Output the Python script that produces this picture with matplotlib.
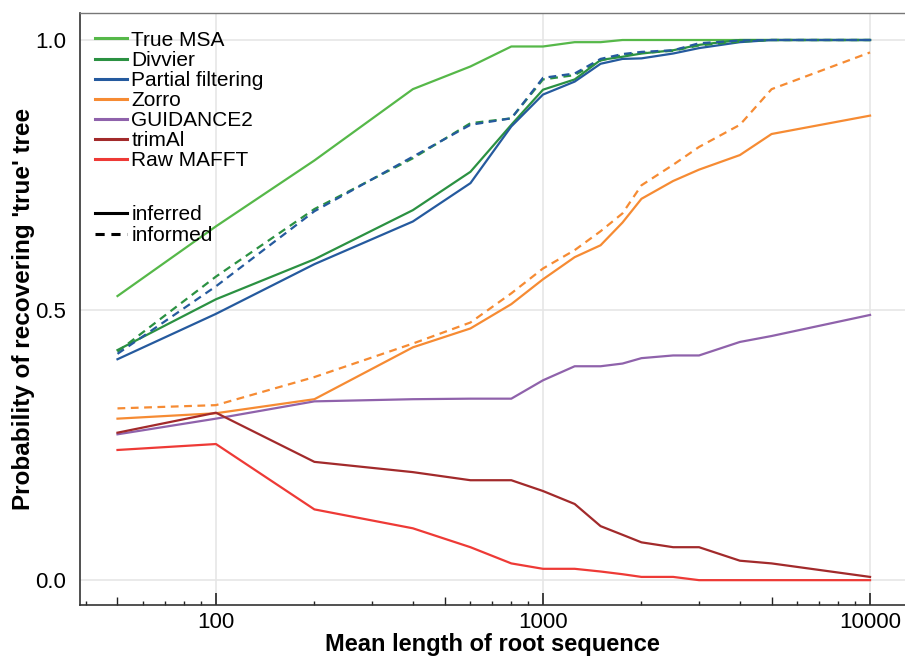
import matplotlib
matplotlib.use("Agg")
import matplotlib.pyplot as plt
from matplotlib.lines import Line2D

plt.rcParams["font.family"] = ["Liberation Sans", "DejaVu Sans"]

# mean root sequence lengths
lengths = [50, 100, 200, 400, 600, 800, 1000, 1250, 1500, 1750, 2000, 2500, 3000, 4000, 5000, 10000]

# probability of recovering the true tree
true_msa = [0.526, 0.655, 0.777, 0.909, 0.951, 0.988, 0.988, 0.996, 0.996, 1.0, 1.0, 1.0, 1.0, 1.0, 1.0, 1.0]
divvier_inferred = [0.426, 0.520, 0.594, 0.685, 0.756, 0.843, 0.908, 0.927, 0.963, 0.969, 0.975, 0.981, 0.991, 1.0, 1.0, 1.0]
divvier_informed = [0.423, 0.562, 0.687, 0.781, 0.846, 0.855, 0.927, 0.935, 0.962, 0.972, 0.976, 0.980, 0.990, 0.997, 1.0, 1.0]
partial_inferred = [0.409, 0.493, 0.585, 0.664, 0.735, 0.840, 0.899, 0.923, 0.956, 0.965, 0.966, 0.975, 0.985, 0.996, 1.0, 1.0]
partial_informed = [0.419, 0.544, 0.683, 0.784, 0.843, 0.855, 0.930, 0.938, 0.965, 0.974, 0.978, 0.981, 0.994, 0.999, 1.0, 1.0]
zorro_inferred = [0.299, 0.309, 0.335, 0.431, 0.466, 0.511, 0.557, 0.598, 0.620, 0.662, 0.706, 0.739, 0.760, 0.787, 0.826, 0.860]
zorro_informed = [0.318, 0.324, 0.376, 0.438, 0.477, 0.531, 0.577, 0.611, 0.646, 0.679, 0.731, 0.769, 0.802, 0.843, 0.909, 0.977]
guidance2 = [0.270, 0.299, 0.331, 0.335, 0.336, 0.336, 0.370, 0.396, 0.396, 0.401, 0.411, 0.416, 0.416, 0.441, 0.452, 0.491]
trimal = [0.273, 0.310, 0.219, 0.200, 0.185, 0.185, 0.165, 0.141, 0.100, 0.084, 0.070, 0.061, 0.061, 0.036, 0.031, 0.006]
raw_mafft = [0.241, 0.252, 0.131, 0.096, 0.061, 0.031, 0.021, 0.021, 0.016, 0.011, 0.006, 0.006, 0.0, 0.0, 0.0, 0.0]

methods = ["True MSA", "Divvier", "Partial filtering", "Zorro", "GUIDANCE2", "trimAl", "Raw MAFFT"]
colors = ["#56b849", "#2b9142", "#255a9e", "#f68b33", "#8f62ab", "#a22a2b", "#ee3a36"]

fig = plt.figure(figsize=(9.05, 6.59), dpi=100)
ax = fig.add_axes([80 / 905, 1 - 605 / 659, 825 / 905, 592 / 659])

lw = 1.6
dash = (3.5, 2.5)

inferred = [true_msa, divvier_inferred, partial_inferred, zorro_inferred, guidance2, trimal, raw_mafft]
for vals, c in zip(inferred, colors):
    ax.plot(lengths, vals, color=c, lw=lw)

informed = {1: divvier_informed, 2: partial_informed, 3: zorro_informed}
for i, vals in informed.items():
    ax.plot(lengths, vals, color=colors[i], lw=lw, ls=(0, dash))

ax.set_xscale("log")
ax.set_xlim(38.4, 12790)
ax.set_ylim(-0.046, 1.05)

ax.set_xticks([100, 1000, 10000])
ax.set_xticklabels(["100", "1000", "10000"])
ax.set_xticks([m * 10 ** e for e in (1, 2, 3) for m in (2, 3, 4, 6, 7, 8, 9)
               if 38 < m * 10 ** e < 12800], minor=True)
ax.xaxis.set_minor_formatter(plt.NullFormatter())
ax.set_yticks([0.0, 0.5, 1.0])
ax.set_yticklabels(["0.0", "0.5", "1.0"])

ax.tick_params(axis="x", which="major", direction="in", length=9, width=1.2,
               labelsize=16, pad=5, color="#222222")
ax.tick_params(axis="x", which="minor", direction="in", length=3, width=1.0, color="#222222")
ax.tick_params(axis="y", length=0, labelsize=16, pad=10)

# medium ticks at the halves of each decade
sec = ax.secondary_xaxis(0)
sec.set_xticks([50, 500, 5000])
sec.tick_params(direction="in", length=6, width=1.0, labelbottom=False, color="#222222")
sec.xaxis.set_minor_locator(plt.NullLocator())
sec.spines["bottom"].set_visible(False)

ax.grid(True, which="major", color="#e6e6e6", lw=1.2)
ax.set_axisbelow(True)

for s in ("left", "bottom"):
    ax.spines[s].set_color("#333333")
    ax.spines[s].set_linewidth(1.2)
ax.spines["top"].set_color("#777777")
ax.spines["top"].set_linewidth(1.0)
ax.spines["right"].set_visible(False)

ax.set_xlabel("Mean length of root sequence", fontsize=17, fontweight="bold", labelpad=0)
ax.set_ylabel("Probability of recovering 'true' tree", fontsize=17.5, fontweight="bold", labelpad=0)

method_handles = [Line2D([], [], color=c, lw=2.2) for c in colors]
leg1 = ax.legend(method_handles, methods, loc="upper left", bbox_to_anchor=(0.018, 0.970),
                 frameon=False, fontsize=15, handlelength=1.55, handletextpad=0.2,
                 labelspacing=0.05, borderpad=0, borderaxespad=0)
ax.add_artist(leg1)

style_handles = [Line2D([], [], color="black", lw=2.2),
                 Line2D([], [], color="black", lw=2.2, ls=(0, (3, 2.2)))]
ax.legend(style_handles, ["inferred", "informed"], loc="upper left", bbox_to_anchor=(0.018, 0.676),
          frameon=False, fontsize=15, handlelength=1.55, handletextpad=0.2,
          labelspacing=0.1, borderpad=0, borderaxespad=0)

fig.savefig("out.png", dpi=100)
